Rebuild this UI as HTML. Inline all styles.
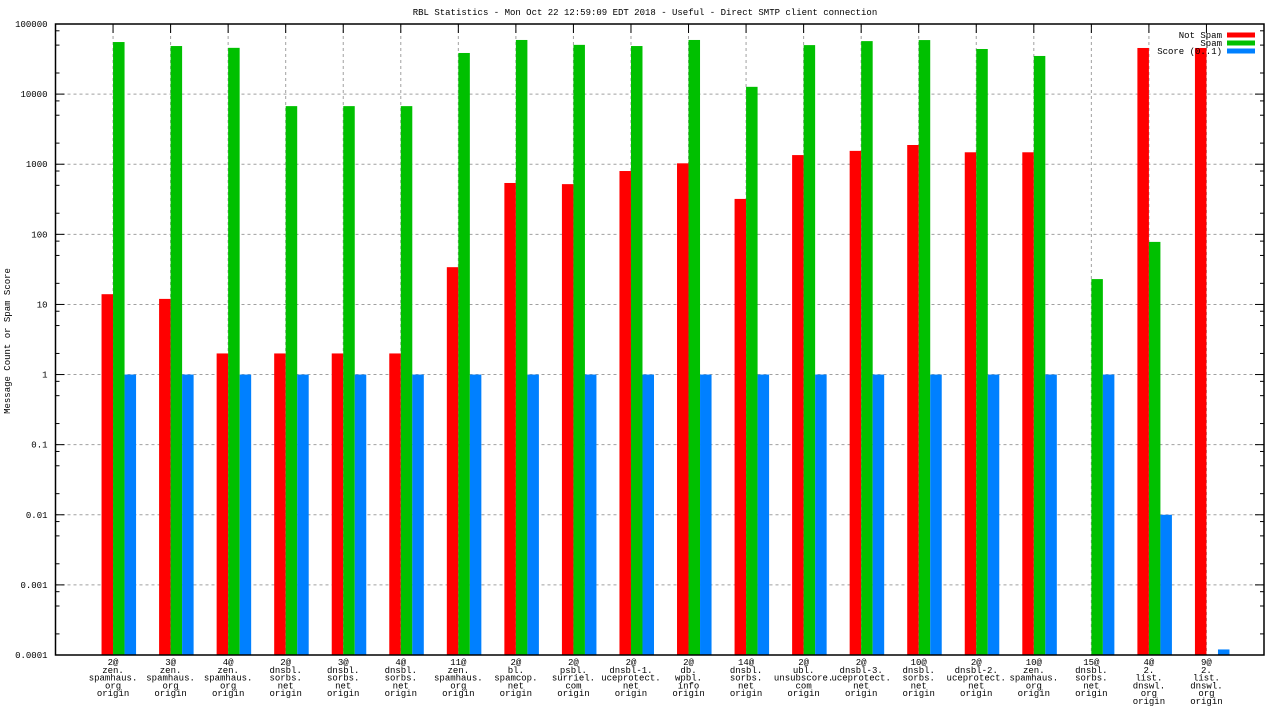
<!DOCTYPE html>
<html><head><meta charset="utf-8"><style>
body{margin:0;background:#fff}
svg{display:block;font-family:"Liberation Mono","DejaVu Sans Mono",monospace;font-size:9px}
</style></head><body>
<svg id="chart" width="1280" height="720" xmlns="http://www.w3.org/2000/svg">
<text x="645" y="15" text-anchor="middle">RBL Statistics - Mon Oct 22 12:59:09 EDT 2018 - Useful - Direct SMTP client connection</text>
<text transform="translate(10,341) rotate(-90)" text-anchor="middle">Message Count or Spam Score</text>
<g id="grid"></g>
<g id="bars"></g>
<g id="axes"></g>
<g id="legend"></g>
</svg>
<script>
const categories = [
 ["2@","zen.","spamhaus.","org","origin"],
 ["3@","zen.","spamhaus.","org","origin"],
 ["4@","zen.","spamhaus.","org","origin"],
 ["2@","dnsbl.","sorbs.","net","origin"],
 ["3@","dnsbl.","sorbs.","net","origin"],
 ["4@","dnsbl.","sorbs.","net","origin"],
 ["11@","zen.","spamhaus.","org","origin"],
 ["2@","bl.","spamcop.","net","origin"],
 ["2@","psbl.","surriel.","com","origin"],
 ["2@","dnsbl-1.","uceprotect.","net","origin"],
 ["2@","db.","wpbl.","info","origin"],
 ["14@","dnsbl.","sorbs.","net","origin"],
 ["2@","ubl.","unsubscore.","com","origin"],
 ["2@","dnsbl-3.","uceprotect.","net","origin"],
 ["10@","dnsbl.","sorbs.","net","origin"],
 ["2@","dnsbl-2.","uceprotect.","net","origin"],
 ["10@","zen.","spamhaus.","org","origin"],
 ["15@","dnsbl.","sorbs.","net","origin"],
 ["4@","2.","list.","dnswl.","org","origin"],
 ["9@","2.","list.","dnswl.","org","origin"]
];
const notSpam = [14,12,2,2,2,2,34,540,520,800,1030,320,1350,1550,1880,1480,1480,0,45500,45500];
const spam = [55300,48500,45700,6740,6740,6740,38600,59200,50400,48500,59200,12700,50000,57000,59000,44000,35000,23,78,0];
const score = [1,1,1,1,1,1,1,1,1,1,1,1,1,1,1,1,1,1,0.01,0.00012];
const yTickLabels = ["0.0001","0.001","0.01","0.1","1","10","100","1000","10000","100000"];
const seriesNames = ["Not Spam","Spam","Score (0..1)"];
const seriesColors = ["#ff0000","#00c000","#0080ff"];

const NS="http://www.w3.org/2000/svg";
const L=55.5,R=1264,T=24,B=655;
const xs=i=>L+(i+1)*(R-L)/21;
const unit=(R-L)/21;
const ys=v=>B-(Math.log10(v)+4)*(B-T)/9;
function mk(tag,attrs,parent){const e=document.createElementNS(NS,tag);for(const k in attrs)e.setAttribute(k,attrs[k]);parent.appendChild(e);return e;}
const grid=document.getElementById('grid'),bars=document.getElementById('bars'),axes=document.getElementById('axes'),legend=document.getElementById('legend');

yTickLabels.forEach((lab,k)=>{
  const y=ys(parseFloat(lab));
  if(k>0&&k<yTickLabels.length-1){
    const g=mk('line',{x1:L,x2:R,y1:y,y2:y,stroke:'#a0a0a0','stroke-dasharray':'3,3'},grid);
    
    
  }
  const t=mk('text',{x:L-8,y:y+3,'text-anchor':'end'},axes);
  t.textContent=lab;
  
  
  mk('line',{x1:L,x2:L+9,y1:y,y2:y,stroke:'#000'},axes);
  mk('line',{x1:R,x2:R-9,y1:y,y2:y,stroke:'#000'},axes);
  if(k<yTickLabels.length-1){
    [2,5,8].forEach(m=>{const v=parseFloat(lab)*m;const yy=ys(v);
      mk('line',{x1:L,x2:L+4,y1:yy,y2:yy,stroke:'#000'},axes);
      mk('line',{x1:R,x2:R-4,y1:yy,y2:yy,stroke:'#000'},axes);});
  }
});

categories.forEach((c,i)=>{
  const x=xs(i);
  const g=mk('line',{x1:x,x2:x,y1:T,y2:B,stroke:'#a0a0a0','stroke-dasharray':'3,3'},grid);
  
  
  mk('line',{x1:x,x2:x,y1:T,y2:T+9,stroke:'#000'},axes);
  c.forEach((s,j)=>{const t=mk('text',{x:x,y:B+10+j*7.8,'text-anchor':'middle'},axes);t.textContent=s;
    
    });
});

[notSpam,spam,score].forEach((arr,s)=>{
  arr.forEach((v,i)=>{
    if(!(v>0))return;
    const x0=xs(i)+(s-1)*unit*0.2;
    const y=ys(v);
    const r=mk('rect',{x:x0,y:y,width:unit*0.2,height:B-y,fill:seriesColors[s]},bars);
    
    
  });
});

mk('rect',{x:L,y:T,width:R-L,height:B-T,fill:'none',stroke:'#000','stroke-width':1.5},axes);

seriesNames.forEach((n,s)=>{
  const y=35+s*8;
  const t=mk('text',{x:1222,y:y+3,'text-anchor':'end'},legend);
  t.textContent=n;
  
  
  const r=mk('rect',{x:1227,y:y-2.5,width:28,height:5,fill:seriesColors[s]},legend);
  
  
});
</script>
</body></html>
